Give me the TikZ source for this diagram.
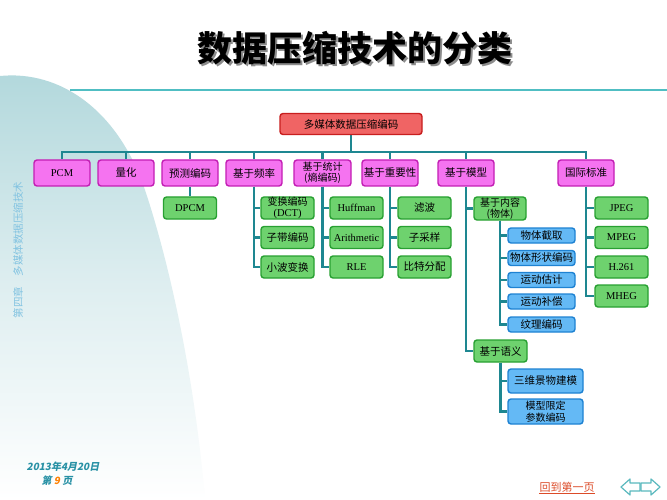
\documentclass[tikz,border=0pt]{standalone}
\usepackage{fontspec}
\setmainfont{Liberation Serif}
\newfontfamily\cjk{Noto Sans CJK SC}
\newfontfamily\cjkslant[FakeSlant=0.2]{Noto Sans CJK SC}
\usetikzlibrary{shadings}
\pgfdeclarelayer{back}
\pgfdeclarelayer{background}
\pgfsetlayers{back,background,main}
\definecolor{rootf}{RGB}{240,100,100}
\definecolor{rootb}{RGB}{200,30,30}
\definecolor{magf}{RGB}{245,115,240}
\definecolor{magb}{RGB}{195,30,180}
\definecolor{grf}{RGB}{110,210,110}
\definecolor{grb}{RGB}{40,160,50}
\definecolor{blf}{RGB}{100,185,245}
\definecolor{blb}{RGB}{30,130,210}
\definecolor{conc}{RGB}{30,135,145}
\definecolor{tline}{RGB}{80,190,195}
\definecolor{bgteal}{RGB}{178,216,220}
\definecolor{bgmid}{RGB}{222,238,240}
\definecolor{sidec}{RGB}{130,195,225}
\definecolor{datec}{RGB}{40,145,165}
\definecolor{linkc}{RGB}{220,75,40}
\definecolor{arrc}{RGB}{90,185,190}
\tikzset{
  box/.style={rounded corners=3pt, line width=1.4pt, inner sep=0pt, align=center, font=\cjk\fontsize{10.5}{11.5}\selectfont},
  latin/.style={font=\rmfamily\fontsize{10.5}{11.5}\selectfont},
  two/.style={font=\cjk\fontsize{10}{11}\selectfont},
  rootbox/.style={box, draw=rootb, fill=rootf, minimum width=142pt, minimum height=21pt},
  lone/.style={box, draw=magb, fill=magf, minimum width=56pt, minimum height=26pt},
  gbox/.style={box, draw=grb, fill=grf, minimum width=53pt, minimum height=22pt},
  bbox/.style={box, draw=blb, fill=blf, minimum width=67pt, minimum height=15pt},
  conn/.style={draw=conc, line width=2.2pt},
}
\begin{document}
\begin{tikzpicture}[x=1pt,y=-1pt]
\useasboundingbox (0,0) rectangle (667,500);
\begin{pgfonlayer}{back}
\fill[white] (0,0) rectangle (667,500);
\shade[top color=bgteal, bottom color=white, middle color=bgmid]
  (0,76) .. controls (60,70) and (118,110) .. (145,190)
  .. controls (170,265) and (195,380) .. (205,500) -- (0,500) -- cycle;
\end{pgfonlayer}
% title
\node[text=black!45, font=\cjk\bfseries\fontsize{35}{38}\selectfont] (titleshadow) at (357,50) {数据压缩技术的分类};
\node[font=\cjk\bfseries\fontsize{35}{38}\selectfont] (title) at (355,48) {数据压缩技术的分类};
\draw[tline, line width=2pt] (70,90) -- (667,90);
% root
\node[rootbox] (root) at (351,124) {多媒体数据压缩编码};
% level 1
\node[lone, latin] (pcm) at (62,173) {PCM};
\node[lone] (quant) at (126,173) {量化};
\node[lone] (pred) at (190,173) {预测编码};
\node[lone] (freq) at (254,173) {基于频率};
\node[lone, two, minimum width=57pt] (stat) at (322.5,173) {基于统计\\(熵编码)};
\node[lone] (imp) at (390,173) {基于重要性};
\node[lone] (model) at (466,173) {基于模型};
\node[lone] (std) at (586,173) {国际标准};
% level 2 green
\node[gbox, latin] (dpcm) at (190,208) {DPCM};
\node[gbox, two] (dct) at (287.5,208) {变换编码\\{\rmfamily\fontsize{10.5}{11}\selectfont (DCT)}};
\node[gbox] (sub) at (287.5,237.5) {子带编码};
\node[gbox] (wav) at (287.5,267) {小波变换};
\node[gbox, latin] (huff) at (356.5,208) {Huffman};
\node[gbox, latin] (arith) at (356.5,237.5) {Arithmetic};
\node[gbox, latin] (rle) at (356.5,267) {RLE};
\node[gbox] (filt) at (424.5,208) {滤波};
\node[gbox] (subs) at (424.5,237.5) {子采样};
\node[gbox] (bit) at (424.5,267) {比特分配};
\node[gbox, two, minimum width=52pt, minimum height=23pt] (content) at (500,208.5) {基于内容\\(物体)};
\node[gbox, latin] (jpeg) at (621.5,208) {JPEG};
\node[gbox, latin] (mpeg) at (621.5,237.5) {MPEG};
\node[gbox, latin] (h261) at (621.5,267) {H.261};
\node[gbox, latin] (mheg) at (621.5,296) {MHEG};
\node[gbox] (sem) at (500.5,351) {基于语义};
% blue
\node[bbox] (cut) at (541.5,235.5) {物体截取};
\node[bbox] (shape) at (541.5,258) {物体形状编码};
\node[bbox] (mest) at (541.5,280) {运动估计};
\node[bbox] (mcomp) at (541.5,301.5) {运动补偿};
\node[bbox] (tex) at (541.5,324.5) {纹理编码};
\node[bbox, minimum width=75pt, minimum height=24pt] (threed) at (545.5,381) {三维景物建模};
\node[bbox, minimum width=75pt, minimum height=25pt, font=\cjk\fontsize{10}{12}\selectfont] (param) at (545.5,411.5) {模型限定\\参数编码};
% connectors
\begin{pgfonlayer}{background}
\foreach \n in {pcm,quant,pred,freq,stat,imp,model,std}
  \draw[conn] (root.south) -- ++(0,17) -| (\n.north);
\draw[conn] (pred.south) -- (dpcm.north);
\foreach \n in {dct,sub,wav} \draw[conn] (freq.south) |- (\n.west);
\foreach \n in {huff,arith,rle} \draw[conn] (stat.south) |- (\n.west);
\foreach \n in {filt,subs,bit} \draw[conn] (imp.south) |- (\n.west);
\foreach \n in {content,sem} \draw[conn] (model.south) |- (\n.west);
\foreach \n in {jpeg,mpeg,h261,mheg} \draw[conn] (std.south) |- (\n.west);
\foreach \n in {cut,shape,mest,mcomp,tex} \draw[conn] (content.south) |- (\n.west);
\foreach \n in {threed,param} \draw[conn] (sem.south) |- (\n.west);
\end{pgfonlayer}
% side text
\node[rotate=90, text=sidec, font=\cjk\fontsize{10.5}{11}\selectfont] (side) at (18,250) {第四章\quad 多媒体数据压缩技术};
% date
\node[text=datec, font=\cjkslant\bfseries\fontsize{10}{11}\selectfont] (date) at (63,467) {2013年4月20日};
\node[text=datec, font=\cjkslant\bfseries\fontsize{10}{11}\selectfont] (page) at (57,481) {第 \textcolor{orange}{9} 页};
% link
\node[text=linkc, font=\cjk\fontsize{11}{12}\selectfont, inner sep=1pt] (link) at (567,487) {回到第一页};
\draw[linkc, line width=0.8pt] ([xshift=1pt]link.south west) -- ([xshift=-1pt]link.south east);
% arrows
\draw[arrc, fill=white, line width=1.2pt, line join=round] (621,487) -- (630,479) -- (630,483) -- (640,483) -- (640,491) -- (630,491) -- (630,495) -- cycle;
\draw[arrc, fill=white, line width=1.2pt, line join=round] (660,487) -- (651,479) -- (651,483) -- (641,483) -- (641,491) -- (651,491) -- (651,495) -- cycle;
\end{tikzpicture}
\end{document}
